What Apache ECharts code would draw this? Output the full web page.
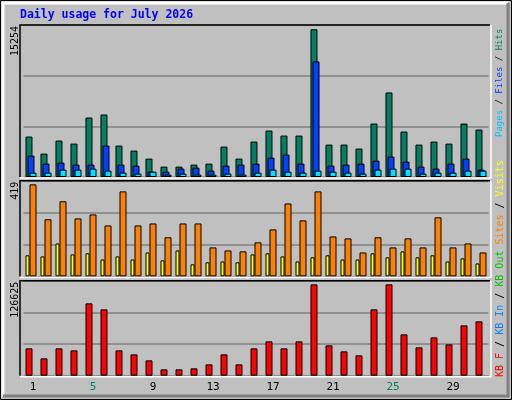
<!DOCTYPE html><html><head><meta charset="utf-8">
<script src="https://cdn.jsdelivr.net/npm/echarts@6/dist/echarts.min.js"></script>
<style>html,body{margin:0;padding:0;background:#c0c0c0}#c{width:512px;height:400px}</style></head><body><div id="c"></div>
<script>
const days=[1,2,3,4,5,6,7,8,9,10,11,12,13,14,15,16,17,18,19,20,21,22,23,24,25,26,27,28,29,30,31];
const weekend=[4,5,11,12,18,19,25,26];
const hits=[4176,2416,3762,3451,6143,6453,3244,2726,1898,1070,1070,1277,1380,3140,1898,3658,4797,4279,4279,15254,3347,3347,2933,5522,8731,4693,3347,3658,3451,5522,4900];
const files=[2209,1380,1484,1277,1277,3244,1277,1173,552,552,863,966,656,1173,1277,1380,2002,2312,1380,11940,1173,1277,1380,1691,2105,1587,1070,863,1380,1898,759];
const pages=[449,449,759,759,863,656,449,345,552,242,345,242,242,345,242,449,759,552,449,656,552,449,345,759,863,863,345,449,449,656,656];
const visits=[96,91,150,100,105,77,91,77,109,73,118,55,64,68,64,100,105,91,68,87,96,77,77,105,87,114,87,96,68,82,59];
const sites=[419,260,342,264,282,232,387,232,241,178,241,241,132,118,114,155,214,332,255,387,182,173,109,178,132,173,132,269,132,150,109];
const kbytes=[37894,24030,37894,35120,100280,91960,35120,29575,21257,8780,8780,10166,15711,29575,15711,37894,47600,37894,47600,126625,42050,33733,28188,91960,126625,57300,39280,53142,43437,69777,75322];
const maxLabels=['15254','419','126625'];
const axisMax=[15699,435.7,131708];
const panels=[{top:25,h:152},{top:180.7,h:95.7},{top:280.7,h:95}];
const font='DejaVu Sans Mono';
const grids=panels.map(p=>({left:23.5,width:465,top:p.top,height:p.h}));
const xAxes=panels.map((p,i)=>({type:'category',gridIndex:i,data:days,axisLine:{show:false},axisTick:{show:false},
 axisLabel:{show:i===2,margin:6,padding:[0,0,0,4],fontFamily:font,fontSize:11,color:'#000',
  formatter:v=>weekend.includes(+v)?'{w|'+v+'}':v,rich:{w:{color:'#008060',fontFamily:font,fontSize:11}}}}));
const yAxes=panels.map((p,i)=>({type:'value',gridIndex:i,min:0,max:axisMax[i],interval:axisMax[i]/3,axisLabel:{show:false},axisLine:{show:false},axisTick:{show:false},splitLine:{lineStyle:{color:'#808080',width:1.5}}}));
const bs={borderColor:'#000',borderWidth:1};
const series=[
 {type:'bar',xAxisIndex:0,yAxisIndex:0,data:hits,barWidth:7,barGap:'-71%',itemStyle:{color:'#008060',...bs}},
 {type:'bar',xAxisIndex:0,yAxisIndex:0,data:files,barWidth:7,barGap:'-71%',itemStyle:{color:'#0040ff',...bs}},
 {type:'bar',xAxisIndex:0,yAxisIndex:0,data:pages,barWidth:7,barGap:'-71%',itemStyle:{color:'#00e0ff',...bs}},
 {type:'bar',xAxisIndex:1,yAxisIndex:1,data:visits,barWidth:4,barGap:'0%',itemStyle:{color:'#ffff00',...bs}},
 {type:'bar',xAxisIndex:1,yAxisIndex:1,data:sites,barWidth:7,barGap:'0%',itemStyle:{color:'#ff8000',...bs}},
 {type:'bar',xAxisIndex:2,yAxisIndex:2,data:kbytes,barWidth:7,barGap:'0%',itemStyle:{color:'#ff0000',...bs}},
 {type:'bar',xAxisIndex:2,yAxisIndex:2,data:days.map(()=>null),barWidth:4,barGap:'0%'}
];
const g=[];
// outer bevel
g.push({type:'rect',shape:{x:0.5,y:0.5,width:511,height:399},style:{fill:'none',stroke:'#000',lineWidth:1},z:0});
g.push({type:'polyline',shape:{points:[[3,397],[3,3],[508,3]]},style:{stroke:'#fff',lineWidth:3,fill:'none'}});
g.push({type:'polyline',shape:{points:[[3,396],[508,396],[508,3]]},style:{stroke:'#808080',lineWidth:3,fill:'none'}});
panels.forEach((p,i)=>{
 g.push({type:'polyline',shape:{points:[[20,p.top+p.h],[20,p.top],[490,p.top]]},style:{stroke:'#000',lineWidth:1.5,fill:'none'},z:10});
 g.push({type:'polyline',shape:{points:[[20,p.top+p.h+1],[491,p.top+p.h+1],[491,p.top]]},style:{stroke:'#fff',lineWidth:1.5,fill:'none'},z:10});
 g.push({type:'text',x:15,y:p.top+1,rotation:Math.PI/2,style:{text:maxLabels[i],font:'10px '+font,fill:'#000',align:'right',verticalAlign:'middle'}});
});
g.push({type:'text',x:20,y:15,style:{text:'Daily usage for July 2026',font:'bold 11.5px '+font,fill:'#0000ff',verticalAlign:'middle'}});
g.push({type:'text',x:500,y:137,rotation:Math.PI/2,style:{text:'{c|Pages} {k|/} {b|Files} {k|/} {g|Hits}',font:'9px '+font,verticalAlign:'middle',
 rich:{c:{fill:'#00c0ff',font:'9px '+font},b:{fill:'#0040ff',font:'9px '+font},g:{fill:'#008060',font:'9px '+font},k:{fill:'#000',font:'9px '+font}}}});
g.push({type:'text',x:500,y:377,rotation:Math.PI/2,style:{text:'{r|KB F} {k|/} {b|KB In} {k|/} {g|KB Out} {o|Sites} {k|/} {y|Visits}',font:'10px '+font,verticalAlign:'middle',
 rich:{r:{fill:'#ff0000',font:'10px '+font},b:{fill:'#0080ff',font:'10px '+font},g:{fill:'#00c000',font:'10px '+font},o:{fill:'#ff8000',font:'10px '+font},y:{fill:'#ffff00',font:'10px '+font},k:{fill:'#000',font:'10px '+font}}}});
const chart=echarts.init(document.getElementById('c'),null,{renderer:'canvas'});
chart.setOption({backgroundColor:'#c0c0c0',animation:false,grid:grids,xAxis:xAxes,yAxis:yAxes,series,graphic:g});
</script></body></html>
